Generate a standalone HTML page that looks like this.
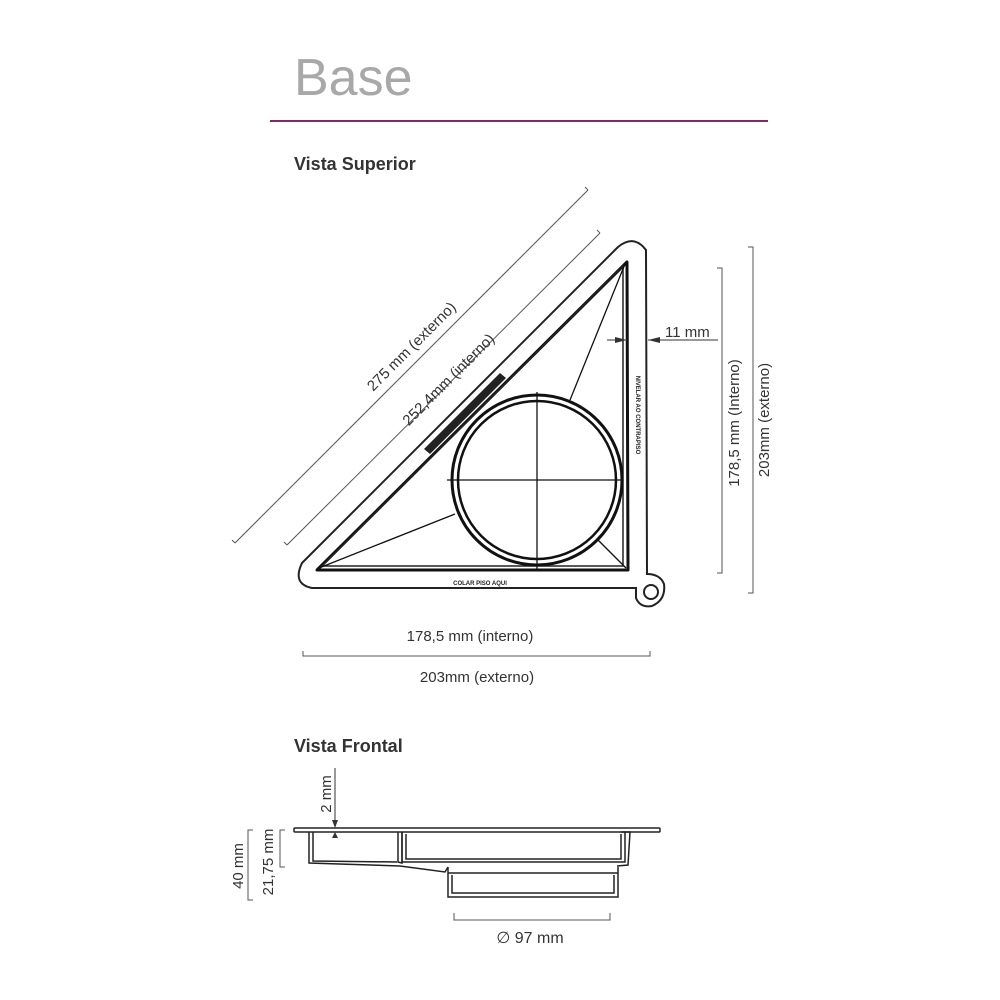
<!DOCTYPE html>
<html><head><meta charset="utf-8"><style>
html,body{margin:0;padding:0;background:#fff}
svg{display:block}
text{font-family:"Liberation Sans",Arial,sans-serif}
</style></head><body>
<svg width="1000" height="1000" viewBox="0 0 1000 1000" xmlns="http://www.w3.org/2000/svg">
<text x="294" y="95" font-size="52" fill="#a8a8a8" font-weight="300">Base</text>
<line x1="270" y1="121" x2="768" y2="121" stroke="#7b2a6c" stroke-width="2"/>
<text x="294" y="170" font-size="18" font-weight="bold" fill="#333">Vista Superior</text>

<!-- dimension diagonals -->
<g stroke="#555" stroke-width="1" fill="none">
<line x1="235" y1="543" x2="588" y2="190"/>
<line x1="287" y1="545" x2="600" y2="233"/>
<line x1="287" y1="545" x2="284" y2="542"/><line x1="600" y1="233" x2="597" y2="230"/>
<line x1="235" y1="543" x2="232" y2="540"/><line x1="588" y1="190" x2="585" y2="187"/>
</g>
<text transform="translate(415,350) rotate(-45)" font-size="15" fill="#333" text-anchor="middle">275 mm (externo)</text>
<text transform="translate(452,383) rotate(-45)" font-size="15" fill="#333" text-anchor="middle">252,4mm (interno)</text>

<!-- outer shape -->
<path d="M618,247 Q634,234 646,250 L647,574 Q660,574 664,584 Q666,600 652,606 Q640,608 636,598 L636,588 L312,588 Q292,584 302,563 Z" fill="none" stroke="#222" stroke-width="2"/>
<circle cx="651" cy="592" r="7" fill="none" stroke="#222" stroke-width="2"/>

<!-- inner triangle -->
<path d="M317,570 L627,262 L628,570 Z" fill="none" stroke="#111" stroke-width="3" stroke-linejoin="round"/>
<path d="M322,566 L623,266 L623,566 Z" fill="none" stroke="#222" stroke-width="1.5"/>

<!-- circle -->
<circle cx="537" cy="480" r="85" fill="none" stroke="#111" stroke-width="3"/>
<circle cx="537" cy="480" r="79" fill="none" stroke="#111" stroke-width="2.5"/>
<g stroke="#111" stroke-width="1.3">
<line x1="447" y1="480" x2="623" y2="480"/>
<line x1="537" y1="392" x2="537" y2="570"/>
<line x1="625" y1="264" x2="570" y2="400"/>
<line x1="319" y1="568" x2="455" y2="514"/>
<line x1="626" y1="568" x2="598" y2="540"/>
</g>
<!-- black label on hypotenuse -->
<polygon points="424,449 500,373 506,378 430,454" fill="#222"/>
<text x="480" y="585" font-size="6" font-weight="bold" fill="#222" text-anchor="middle">COLAR PISO AQUI</text>
<text transform="translate(636,415) rotate(90)" font-size="6" font-weight="bold" fill="#222" text-anchor="middle">NIVELAR AO CONTRAPISO</text>

<!-- 11 mm -->
<g stroke="#333" stroke-width="1">
<line x1="607" y1="340" x2="627" y2="340"/>
<line x1="648" y1="340" x2="718" y2="340"/>
</g>
<polygon points="627,340 615,337 615,343" fill="#333"/>
<polygon points="648,340 660,337 660,343" fill="#333"/>
<text x="665" y="337" font-size="15" fill="#333">11 mm</text>

<!-- right verticals -->
<g stroke="#555" stroke-width="1" fill="none">
<polyline points="717,268 722,268 722,573 717,573"/>
<polyline points="748,247 753,247 753,593 748,593"/>
</g>
<text transform="translate(739,423) rotate(-90)" font-size="15" fill="#333" text-anchor="middle">178,5 mm (Interno)</text>
<text transform="translate(769,420) rotate(-90)" font-size="15" fill="#333" text-anchor="middle">203mm (externo)</text>

<!-- bottom dims -->
<text x="470" y="641" font-size="15" fill="#333" text-anchor="middle">178,5 mm (interno)</text>
<polyline points="303,651 303,656 650,656 650,651" fill="none" stroke="#555" stroke-width="1"/>
<text x="477" y="682" font-size="15" fill="#333" text-anchor="middle">203mm (externo)</text>

<text x="294" y="752" font-size="18" font-weight="bold" fill="#333">Vista Frontal</text>

<!-- frontal view -->
<g fill="none" stroke="#222" stroke-width="1.5">
<rect x="294" y="828" width="366" height="4" rx="1"/>
<polyline points="309,832 309,863 400,866 445,872 448,867"/>
<polyline points="313,832 313,861 397,862"/>
<polyline points="398,832 398,862 402,863 402,832"/>
<polyline points="402,832 402,862 625,862 625,832"/>
<polyline points="406,834 406,859 621,859 621,834"/>
<polyline points="621,832 630,832 628,865 617,866"/>
<polyline points="448,867 448,897 618,897 618,867"/>
<polyline points="452,875 452,893 614,893 614,875"/>
<line x1="448" y1="873" x2="618" y2="873"/>
</g>
<!-- 2 mm -->
<line x1="335" y1="768" x2="335" y2="828" stroke="#333" stroke-width="1"/>
<polygon points="335,828 332,820 338,820" fill="#333"/>
<polygon points="335,832 332,838 338,838" fill="#333"/>
<text transform="translate(331,794) rotate(-90)" font-size="15" fill="#333" text-anchor="middle">2 mm</text>
<!-- 40 / 21,75 -->
<polyline points="253,830 248,830 248,900 253,900" fill="none" stroke="#555" stroke-width="1"/>
<text transform="translate(243,866) rotate(-90)" font-size="15" fill="#333" text-anchor="middle">40 mm</text>
<polyline points="285,830 280,830 280,867 285,867" fill="none" stroke="#555" stroke-width="1"/>
<text transform="translate(273,862) rotate(-90)" font-size="15" fill="#333" text-anchor="middle">21,75 mm</text>
<!-- 97 -->
<polyline points="454,913 454,920 610,920 610,913" fill="none" stroke="#555" stroke-width="1"/>
<text x="530" y="943" font-size="16" fill="#333" text-anchor="middle">∅ 97 mm</text>
</svg>
</body></html>
